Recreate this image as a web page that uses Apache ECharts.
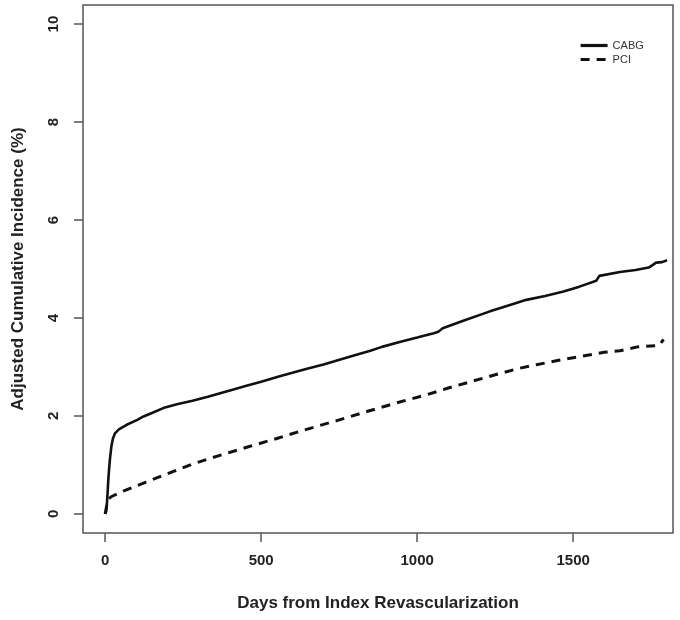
<!DOCTYPE html>
<html>
<head>
<meta charset="utf-8">
<script src="https://cdn.jsdelivr.net/npm/echarts@6/dist/echarts.min.js"></script>
<style>html,body{margin:0;padding:0;background:#fff;}#c{width:680px;height:620px;}</style>
</head>
<body>
<div id="c"></div>
<script>
var xTicks = [0, 500, 1000, 1500];
var yTicks = [0, 2, 4, 6, 8, 10];
var seriesNames = ['CABG', 'PCI'];
var cabgDays = [0,3,5,8,10,13,16,20,25,32,45,69,103,123,150,186,230,280,329,400,450,500,554,600,650,700,732,800,850,887,950,1000,1053,1068,1082,1150,1231,1290,1350,1410,1469,1520,1574,1584,1650,1700,1742,1752,1766,1785,1801];
var cabgValues = [0,0.05,0.15,0.45,0.69,0.95,1.16,1.38,1.54,1.65,1.73,1.82,1.92,1.99,2.06,2.16,2.24,2.31,2.39,2.52,2.61,2.70,2.80,2.88,2.97,3.05,3.11,3.24,3.33,3.41,3.52,3.60,3.69,3.72,3.79,3.95,4.13,4.25,4.37,4.45,4.54,4.64,4.76,4.86,4.94,4.98,5.03,5.07,5.13,5.14,5.18];
var pciDays = [0,8,19,60,127,200,281,370,459,550,637,740,839,930,1029,1100,1172,1250,1326,1386,1450,1528,1600,1650,1706,1775,1790];
var pciValues = [0,0.28,0.35,0.47,0.64,0.82,1.02,1.20,1.37,1.54,1.71,1.90,2.09,2.26,2.43,2.57,2.70,2.84,2.97,3.05,3.13,3.22,3.30,3.33,3.41,3.44,3.56];

function pairs(xs, ys) { return xs.map(function (x, i) { return [x, ys[i]]; }); }

var font = 'Liberation Sans, Arial, sans-serif';
var chart = echarts.init(document.getElementById('c'), null, {renderer: 'canvas'});
chart.setOption({
  animation: false,
  backgroundColor: '#fff',
  grid: {left: 83, right: 7, top: 5, bottom: 87, show: true, borderColor: '#555', borderWidth: 1.5, backgroundColor: 'transparent'},
  legend: {
    orient: 'vertical', left: 574, top: 35, itemWidth: 27, itemHeight: 10, itemGap: 3,
    itemStyle: {opacity: 0},
    lineStyle: {width: 3.2},
    textStyle: {fontFamily: font, fontSize: 11, color: '#333'},
    data: seriesNames
  },
  xAxis: {
    type: 'value', min: -71, max: 1820,
    name: 'Days from Index Revascularization', nameLocation: 'middle', nameGap: 62,
    nameTextStyle: {fontFamily: font, fontSize: 17, fontWeight: 'bold', color: '#222'},
    axisLine: {show: false, onZero: false},
    axisTick: {show: true, length: 9, customValues: xTicks, lineStyle: {color: '#555', width: 1.5}},
    axisLabel: {customValues: xTicks, margin: 20, fontFamily: font, fontSize: 15, fontWeight: 'bold', color: '#222',
      formatter: function (v) { return String(v); }},
    splitLine: {show: false}
  },
  yAxis: {
    type: 'value', min: -0.39, max: 10.39,
    name: 'Adjusted Cumulative Incidence (%)', nameLocation: 'middle', nameGap: 56,
    nameTextStyle: {fontFamily: font, fontSize: 17, fontWeight: 'bold', color: '#222'},
    axisLine: {show: false, onZero: false},
    axisTick: {show: true, length: 9, customValues: yTicks, lineStyle: {color: '#555', width: 1.5}},
    axisLabel: {customValues: yTicks, rotate: 90, margin: 22, fontFamily: font, fontSize: 15, fontWeight: 'bold', color: '#222',
      formatter: function (v) { return String(v); }},
    splitLine: {show: false}
  },
  series: [
    {name: seriesNames[0], type: 'line', symbol: 'none', data: pairs(cabgDays, cabgValues),
     lineStyle: {color: '#111', width: 2.6}, itemStyle: {color: '#111'}},
    {name: seriesNames[1], type: 'line', symbol: 'none', data: pairs(pciDays, pciValues),
     lineStyle: {color: '#111', width: 3, type: [9, 7]}, itemStyle: {color: '#111'}}
  ]
});
</script>
</body>
</html>
